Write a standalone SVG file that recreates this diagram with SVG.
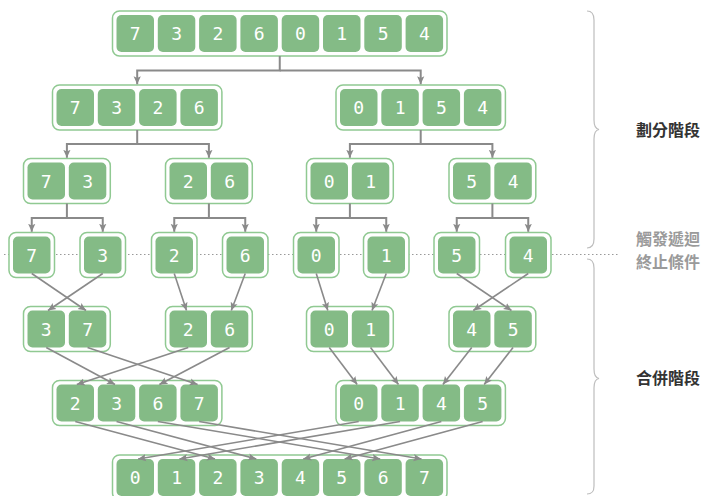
<svg xmlns="http://www.w3.org/2000/svg" width="712" height="496" viewBox="0 0 712 496">
<style>
.o{fill:#fff;stroke:#90c992;stroke-width:1.5}
.c{fill:#84bb86}
.n{font-family:"DejaVu Sans Mono","Liberation Mono",monospace;font-size:18px;fill:#fff;text-anchor:middle;dominant-baseline:central}
.s{fill:none;stroke:#8a8a8a;stroke-width:2}
.m{fill:none;stroke:#8a8a8a;stroke-width:1.6}
.br{fill:none;stroke:#bdbdbd;stroke-width:1.2}
.lab{font-family:"Noto Sans CJK TC","Noto Sans CJK SC",sans-serif;font-size:16px;font-weight:bold}
</style>
<defs>
<marker id="arr" viewBox="0 0 10 10" refX="10" refY="5" markerWidth="8" markerHeight="8" markerUnits="userSpaceOnUse" orient="auto"><path d="M0,0.5 L10,5 L0,9.5 L2,5 z" fill="#8a8a8a"/></marker>
</defs>
<rect width="712" height="496" fill="#fff"/>
<line x1="4" y1="254.5" x2="619" y2="254.5" stroke="#999" stroke-width="1.2" stroke-dasharray="1.5,2.5"/>

<g id="row1">
<rect class="o" x="112.5" y="11" width="334.5" height="45" rx="7"/>
<rect class="c" x="116.5" y="15" width="37.5" height="37" rx="5"/><text class="n" x="135.25" y="33.5">7</text>
<rect class="c" x="157.8" y="15" width="37.5" height="37" rx="5"/><text class="n" x="176.55" y="33.5">3</text>
<rect class="c" x="199.1" y="15" width="37.5" height="37" rx="5"/><text class="n" x="217.85" y="33.5">2</text>
<rect class="c" x="240.4" y="15" width="37.5" height="37" rx="5"/><text class="n" x="259.15" y="33.5">6</text>
<rect class="c" x="281.7" y="15" width="37.5" height="37" rx="5"/><text class="n" x="300.45" y="33.5">0</text>
<rect class="c" x="323" y="15" width="37.5" height="37" rx="5"/><text class="n" x="341.75" y="33.5">1</text>
<rect class="c" x="364.3" y="15" width="37.5" height="37" rx="5"/><text class="n" x="383.05" y="33.5">5</text>
<rect class="c" x="405.6" y="15" width="37.5" height="37" rx="5"/><text class="n" x="424.35" y="33.5">4</text>
</g>

<g id="row2-left">
<rect class="o" x="52.5" y="85" width="169.4" height="45" rx="7"/>
<rect class="c" x="56.5" y="89" width="37.5" height="37" rx="5"/><text class="n" x="75.25" y="107.5">7</text>
<rect class="c" x="97.8" y="89" width="37.5" height="37" rx="5"/><text class="n" x="116.55" y="107.5">3</text>
<rect class="c" x="139.1" y="89" width="37.5" height="37" rx="5"/><text class="n" x="157.85" y="107.5">2</text>
<rect class="c" x="180.4" y="89" width="37.5" height="37" rx="5"/><text class="n" x="199.15" y="107.5">6</text>
</g>
<g id="row2-right">
<rect class="o" x="336" y="85" width="169.4" height="45" rx="7"/>
<rect class="c" x="340" y="89" width="37.5" height="37" rx="5"/><text class="n" x="358.75" y="107.5">0</text>
<rect class="c" x="381.3" y="89" width="37.5" height="37" rx="5"/><text class="n" x="400.05" y="107.5">1</text>
<rect class="c" x="422.6" y="89" width="37.5" height="37" rx="5"/><text class="n" x="441.35" y="107.5">5</text>
<rect class="c" x="463.9" y="89" width="37.5" height="37" rx="5"/><text class="n" x="482.65" y="107.5">4</text>
</g>

<g id="row3-a">
<rect class="o" x="23.5" y="158.5" width="86.8" height="45" rx="7"/>
<rect class="c" x="27.5" y="162.5" width="37.5" height="37" rx="5"/><text class="n" x="46.25" y="181">7</text>
<rect class="c" x="68.8" y="162.5" width="37.5" height="37" rx="5"/><text class="n" x="87.55" y="181">3</text>
</g>
<g id="row3-b">
<rect class="o" x="165.5" y="158.5" width="86.8" height="45" rx="7"/>
<rect class="c" x="169.5" y="162.5" width="37.5" height="37" rx="5"/><text class="n" x="188.25" y="181">2</text>
<rect class="c" x="210.8" y="162.5" width="37.5" height="37" rx="5"/><text class="n" x="229.55" y="181">6</text>
</g>
<g id="row3-c">
<rect class="o" x="306.5" y="158.5" width="86.8" height="45" rx="7"/>
<rect class="c" x="310.5" y="162.5" width="37.5" height="37" rx="5"/><text class="n" x="329.25" y="181">0</text>
<rect class="c" x="351.8" y="162.5" width="37.5" height="37" rx="5"/><text class="n" x="370.55" y="181">1</text>
</g>
<g id="row3-d">
<rect class="o" x="449" y="158.5" width="86.8" height="45" rx="7"/>
<rect class="c" x="453" y="162.5" width="37.5" height="37" rx="5"/><text class="n" x="471.75" y="181">5</text>
<rect class="c" x="494.3" y="162.5" width="37.5" height="37" rx="5"/><text class="n" x="513.05" y="181">4</text>
</g>

<g id="row4-a"><rect class="o" x="9" y="232.5" width="45.5" height="45" rx="7"/><rect class="c" x="13" y="236.5" width="37.5" height="37" rx="5"/><text class="n" x="31.75" y="255">7</text></g>
<g id="row4-b"><rect class="o" x="80" y="232.5" width="45.5" height="45" rx="7"/><rect class="c" x="84" y="236.5" width="37.5" height="37" rx="5"/><text class="n" x="102.75" y="255">3</text></g>
<g id="row4-c"><rect class="o" x="151.5" y="232.5" width="45.5" height="45" rx="7"/><rect class="c" x="155.5" y="236.5" width="37.5" height="37" rx="5"/><text class="n" x="174.25" y="255">2</text></g>
<g id="row4-d"><rect class="o" x="222.5" y="232.5" width="45.5" height="45" rx="7"/><rect class="c" x="226.5" y="236.5" width="37.5" height="37" rx="5"/><text class="n" x="245.25" y="255">6</text></g>
<g id="row4-e"><rect class="o" x="293.5" y="232.5" width="45.5" height="45" rx="7"/><rect class="c" x="297.5" y="236.5" width="37.5" height="37" rx="5"/><text class="n" x="316.25" y="255">0</text></g>
<g id="row4-f"><rect class="o" x="363.5" y="232.5" width="45.5" height="45" rx="7"/><rect class="c" x="367.5" y="236.5" width="37.5" height="37" rx="5"/><text class="n" x="386.25" y="255">1</text></g>
<g id="row4-g"><rect class="o" x="434" y="232.5" width="45.5" height="45" rx="7"/><rect class="c" x="438" y="236.5" width="37.5" height="37" rx="5"/><text class="n" x="456.75" y="255">5</text></g>
<g id="row4-h"><rect class="o" x="505.5" y="232.5" width="45.5" height="45" rx="7"/><rect class="c" x="509.5" y="236.5" width="37.5" height="37" rx="5"/><text class="n" x="528.25" y="255">4</text></g>

<g id="row5-a">
<rect class="o" x="23.5" y="306.5" width="86.8" height="45" rx="7"/>
<rect class="c" x="27.5" y="310.5" width="37.5" height="37" rx="5"/><text class="n" x="46.25" y="329">3</text>
<rect class="c" x="68.8" y="310.5" width="37.5" height="37" rx="5"/><text class="n" x="87.55" y="329">7</text>
</g>
<g id="row5-b">
<rect class="o" x="165.5" y="306.5" width="86.8" height="45" rx="7"/>
<rect class="c" x="169.5" y="310.5" width="37.5" height="37" rx="5"/><text class="n" x="188.25" y="329">2</text>
<rect class="c" x="210.8" y="310.5" width="37.5" height="37" rx="5"/><text class="n" x="229.55" y="329">6</text>
</g>
<g id="row5-c">
<rect class="o" x="306.5" y="306.5" width="86.8" height="45" rx="7"/>
<rect class="c" x="310.5" y="310.5" width="37.5" height="37" rx="5"/><text class="n" x="329.25" y="329">0</text>
<rect class="c" x="351.8" y="310.5" width="37.5" height="37" rx="5"/><text class="n" x="370.55" y="329">1</text>
</g>
<g id="row5-d">
<rect class="o" x="449" y="306.5" width="86.8" height="45" rx="7"/>
<rect class="c" x="453" y="310.5" width="37.5" height="37" rx="5"/><text class="n" x="471.75" y="329">4</text>
<rect class="c" x="494.3" y="310.5" width="37.5" height="37" rx="5"/><text class="n" x="513.05" y="329">5</text>
</g>

<g id="row6-left">
<rect class="o" x="52.5" y="380.5" width="169.4" height="45" rx="7"/>
<rect class="c" x="56.5" y="384.5" width="37.5" height="37" rx="5"/><text class="n" x="75.25" y="403">2</text>
<rect class="c" x="97.8" y="384.5" width="37.5" height="37" rx="5"/><text class="n" x="116.55" y="403">3</text>
<rect class="c" x="139.1" y="384.5" width="37.5" height="37" rx="5"/><text class="n" x="157.85" y="403">6</text>
<rect class="c" x="180.4" y="384.5" width="37.5" height="37" rx="5"/><text class="n" x="199.15" y="403">7</text>
</g>
<g id="row6-right">
<rect class="o" x="336" y="380.5" width="169.4" height="45" rx="7"/>
<rect class="c" x="340" y="384.5" width="37.5" height="37" rx="5"/><text class="n" x="358.75" y="403">0</text>
<rect class="c" x="381.3" y="384.5" width="37.5" height="37" rx="5"/><text class="n" x="400.05" y="403">1</text>
<rect class="c" x="422.6" y="384.5" width="37.5" height="37" rx="5"/><text class="n" x="441.35" y="403">4</text>
<rect class="c" x="463.9" y="384.5" width="37.5" height="37" rx="5"/><text class="n" x="482.65" y="403">5</text>
</g>

<g id="row7">
<rect class="o" x="112.5" y="455" width="334.5" height="45" rx="7"/>
<rect class="c" x="116.5" y="459" width="37.5" height="37" rx="5"/><text class="n" x="135.25" y="477.5">0</text>
<rect class="c" x="157.8" y="459" width="37.5" height="37" rx="5"/><text class="n" x="176.55" y="477.5">1</text>
<rect class="c" x="199.1" y="459" width="37.5" height="37" rx="5"/><text class="n" x="217.85" y="477.5">2</text>
<rect class="c" x="240.4" y="459" width="37.5" height="37" rx="5"/><text class="n" x="259.15" y="477.5">3</text>
<rect class="c" x="281.7" y="459" width="37.5" height="37" rx="5"/><text class="n" x="300.45" y="477.5">4</text>
<rect class="c" x="323" y="459" width="37.5" height="37" rx="5"/><text class="n" x="341.75" y="477.5">5</text>
<rect class="c" x="364.3" y="459" width="37.5" height="37" rx="5"/><text class="n" x="383.05" y="477.5">6</text>
<rect class="c" x="405.6" y="459" width="37.5" height="37" rx="5"/><text class="n" x="424.35" y="477.5">7</text>
</g>

<g id="connectors">
<g marker-end="url(#arr)">
<path class="s" d="M279.75,56 V70.5 H137.2 V84.3"/>
<path class="s" d="M279.75,70.5 H420.7 V84.3"/>
<path class="s" d="M137.2,130 V144 H66.9 V157.8"/>
<path class="s" d="M137.2,144 H208.9 V157.8"/>
<path class="s" d="M420.7,130 V144 H349.9 V157.8"/>
<path class="s" d="M420.7,144 H492.4 V157.8"/>
<path class="s" d="M66.9,203.5 V218 H31.75 V231.8"/>
<path class="s" d="M66.9,218 H102.75 V231.8"/>
<path class="s" d="M208.9,203.5 V218 H174.25 V231.8"/>
<path class="s" d="M208.9,218 H245.25 V231.8"/>
<path class="s" d="M349.9,203.5 V218 H316.25 V231.8"/>
<path class="s" d="M349.9,218 H386.25 V231.8"/>
<path class="s" d="M492.4,203.5 V218 H456.75 V231.8"/>
<path class="s" d="M492.4,218 H528.25 V231.8"/>

<line class="m" x1="31.75" y1="273.5" x2="86" y2="310.5"/>
<line class="m" x1="102.75" y1="273.5" x2="48" y2="310.5"/>
<line class="m" x1="174.25" y1="273.5" x2="186.5" y2="310.5"/>
<line class="m" x1="245.25" y1="273.5" x2="231.3" y2="310.5"/>
<line class="m" x1="316.25" y1="273.5" x2="327.8" y2="310.5"/>
<line class="m" x1="386.25" y1="273.5" x2="372" y2="310.5"/>
<line class="m" x1="456.75" y1="273.5" x2="511.5" y2="310.5"/>
<line class="m" x1="528.25" y1="273.5" x2="473.3" y2="310.5"/>

<line class="m" x1="46.25" y1="347.5" x2="115" y2="384.5"/>
<line class="m" x1="87.55" y1="347.5" x2="197.6" y2="384.5"/>
<line class="m" x1="188.25" y1="347.5" x2="76.8" y2="384.5"/>
<line class="m" x1="229.55" y1="347.5" x2="159.4" y2="384.5"/>
<line class="m" x1="329.25" y1="347.5" x2="357.2" y2="384.5"/>
<line class="m" x1="370.55" y1="347.5" x2="398.5" y2="384.5"/>
<line class="m" x1="471.75" y1="347.5" x2="442.9" y2="384.5"/>
<line class="m" x1="513.05" y1="347.5" x2="484.2" y2="384.5"/>

<line class="m" x1="75.25" y1="421.5" x2="215" y2="459"/>
<line class="m" x1="116.55" y1="421.5" x2="256.3" y2="459"/>
<line class="m" x1="157.85" y1="421.5" x2="380.2" y2="459"/>
<line class="m" x1="199.15" y1="421.5" x2="421.5" y2="459"/>
<line class="m" x1="358.75" y1="421.5" x2="138.1" y2="459"/>
<line class="m" x1="400.05" y1="421.5" x2="179.4" y2="459"/>
<line class="m" x1="441.35" y1="421.5" x2="303.3" y2="459"/>
<line class="m" x1="482.65" y1="421.5" x2="344.6" y2="459"/>
</g>
</g>

<g id="brackets">
<path class="br" d="M587,11 C592,11 594,14 594,20 V120 C594,126 596,129 599,129.5 C596,130 594,133 594,139 V239 C594,245 592,248 587,248"/>
<path class="br" d="M587,259 C592,259 594,262 594,268 V369 C594,375 596,378 599,378.5 C596,379 594,382 594,388 V486 C594,492 592,494 587,494"/>
</g>
<g id="labels">
<text class="lab" x="636" y="136" fill="#333">劃分階段</text>
<text class="lab" x="636" y="244.5" fill="#9a9a9a">觸發遞迴</text>
<text class="lab" x="636" y="268" fill="#9a9a9a">終止條件</text>
<text class="lab" x="636" y="384" fill="#333">合併階段</text>
</g>
</svg>
